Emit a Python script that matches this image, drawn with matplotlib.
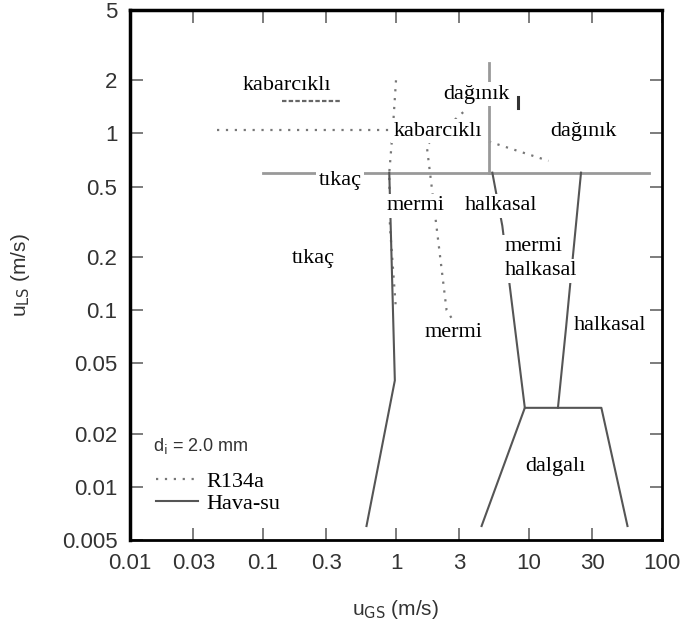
import numpy as np
import matplotlib.pyplot as plt
from matplotlib.lines import Line2D

# eksen işaretleri
x_ticks = [0.01, 0.03, 0.1, 0.3, 1, 3, 10, 30, 100]
x_ticklabels = ['0.01', '0.03', '0.1', '0.3', '1', '3', '10', '30', '100']
y_ticks = [0.005, 0.01, 0.02, 0.05, 0.1, 0.2, 0.5, 1, 2, 5]
y_ticklabels = ['0.005', '0.01', '0.02', '0.05', '0.1', '0.2', '0.5', '1', '2', '5']

# Hava-su akış rejimi sınırları (uGS, uLS)
hs_plug_x = [0.1, 80]
hs_plug_y = [0.6, 0.6]
hs_slug_x = [0.89, 0.98, 0.6]
hs_slug_y = [0.6, 0.04, 0.006]
hs_disp_x = [5, 5]
hs_disp_y = [0.6, 2.5]
hs_ann_x = [5.3, 6.3, 9.3]
hs_ann_y = [0.6, 0.3, 0.028]
hs_ann2_x = [24.6, 22.2, 20, 19, 16.5]
hs_ann2_y = [0.6, 0.27, 0.12, 0.08, 0.028]
hs_wavy_x = [4.4, 9.3, 35, 55]
hs_wavy_y = [0.006, 0.028, 0.028, 0.006]

# R134a akış rejimi sınırları
r_bub_x = [0.045, 1.0]
r_bub_y = [1.05, 1.05]
r_bub2_x = [0.14, 0.38]
r_bub2_y = [1.53, 1.53]
r_slug_x = [1.0, 0.95, 0.89, 0.9, 1.0]
r_slug_y = [2.0, 1.1, 0.6, 0.3, 0.1]
r_slug2_x = [3.2, 1.7, 2.4, 3.4]
r_slug2_y = [1.32, 0.86, 0.1, 0.066]
r_disp_x = [5, 14]
r_disp_y = [0.9, 0.7]
r_mark_x = [8.3, 8.3]
r_mark_y = [1.4, 1.6]

# rejim etiketleri
reg_text = ['kabarcıklı', 'kabarcıklı', 'dağınık', 'dağınık', 'tıkaç', 'mermi',
            'halkasal', 'mermi', 'halkasal', 'tıkaç', 'halkasal', 'mermi', 'dalgalı']
reg_x = [0.15, 2.07, 4.0, 25.5, 0.38, 1.41, 6.15, 10.9, 12.3, 0.24, 41, 2.73, 15.7]
reg_y = [1.88, 1.03, 1.67, 1.03, 0.54, 0.39, 0.39, 0.228, 0.167, 0.195, 0.082, 0.075, 0.013]

fig = plt.figure(figsize=(6.82, 6.28), dpi=100)
ax = fig.add_axes([0.1906, 0.1401, 0.7801, 0.8440])
ax.set_xscale('log')
ax.set_yscale('log')

dot = dict(color='#777777', lw=1.6, ls=(0, (1, 3)))
sol = dict(color='#555555', lw=1.5)

ax.plot(r_bub_x, r_bub_y, **dot)
ax.plot(r_bub2_x, r_bub2_y, color='#666666', lw=1.6, ls=(0, (2, 1)))
ax.plot(r_slug_x, r_slug_y, **dot)
ax.plot(r_slug2_x, r_slug2_y, **dot)
ax.plot(r_disp_x, r_disp_y, **dot)
ax.plot(r_mark_x, r_mark_y, color='#333333', lw=2.2)

ax.plot(hs_plug_x, hs_plug_y, color='#999999', lw=2)
ax.plot(hs_slug_x, hs_slug_y, **sol)
ax.plot(hs_disp_x, hs_disp_y, color='#999999', lw=2)
ax.plot(hs_ann_x, hs_ann_y, **sol)
ax.plot(hs_ann2_x, hs_ann2_y, **sol)
ax.plot(hs_wavy_x, hs_wavy_y, **sol)

for t, x, y in zip(reg_text, reg_x, reg_y):
    ax.text(x, y, t, ha='center', va='center', fontsize=16, family='Liberation Serif',
            color='black', bbox=dict(facecolor='white', edgecolor='none', pad=2))

ax.set_xlim(0.01, 100)
ax.set_ylim(0.005, 5)
ax.set_xticks(x_ticks, x_ticklabels)
ax.set_yticks(y_ticks, y_ticklabels)
ax.minorticks_off()
ax.tick_params(direction='in', length=9, width=1.2, color='#666666', top=True, right=True,
               labelsize=16, labelcolor='#333333', pad=9)
for lab in ax.get_xticklabels() + ax.get_yticklabels():
    lab.set_family('Liberation Sans')
for s in ['left', 'top']:
    ax.spines[s].set_linewidth(2.5)
for s in ['right', 'bottom']:
    ax.spines[s].set_linewidth(2)

ax.set_xlabel('u$_{\\rm GS}$ (m/s)', fontsize=15, family='Liberation Sans', color='#333333')
ax.set_ylabel('u$_{\\rm LS}$ (m/s)', fontsize=15, family='Liberation Sans', color='#333333')
ax.xaxis.set_label_coords(0.5, -0.109)
ax.yaxis.set_label_coords(-0.185, 0.5)

# çap bilgisi ve lejant
ax.text(0.043, 0.177, 'd$_{\\rm i}$ = 2.0 mm', transform=ax.transAxes, ha='left', va='center',
        fontsize=13, family='Liberation Sans', color='#333333')
handles = [Line2D([], [], **dot), Line2D([], [], **sol)]
ax.legend(handles, ['R134a', 'Hava-su'], loc='lower left', bbox_to_anchor=(0.02, 0.02),
          frameon=False, prop={'family': 'Liberation Serif', 'size': 16},
          handlelength=1.9, handletextpad=0.35, labelspacing=0.05, borderpad=0.2)

fig.savefig('out.png', dpi=100)
